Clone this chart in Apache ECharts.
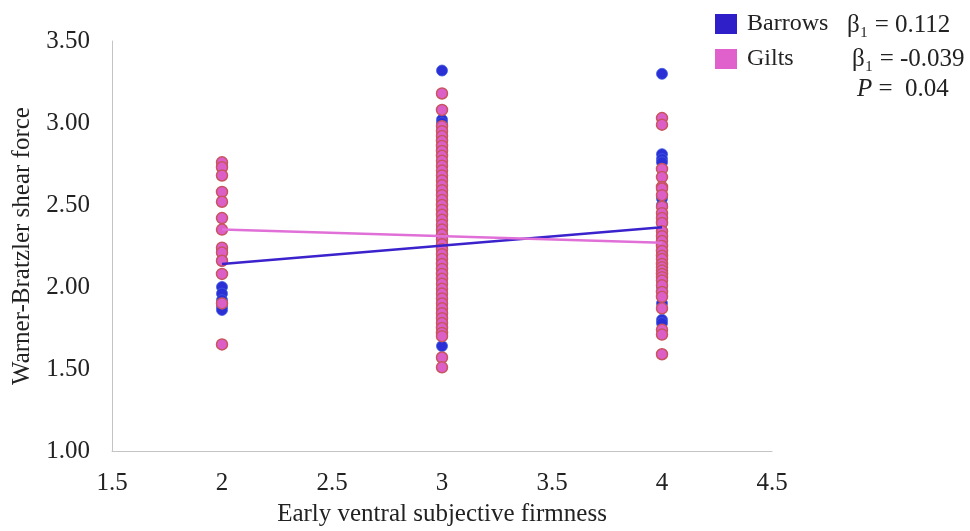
<!DOCTYPE html>
<html>
<head>
<meta charset="utf-8">
<script src="https://cdn.jsdelivr.net/npm/echarts@6/dist/echarts.min.js"></script>
<style>
  html, body { margin: 0; padding: 0; background: #fff; }
  #chart { width: 970px; height: 531px; }
</style>
</head>
<body>
<div id="chart"></div>
<script>
// shear force values, grouped by firmness score
const barrowsFirm2 = [2.00, 1.96, 1.92, 1.88, 1.86, 2.16, 2.22];
const barrowsFirm3 = [3.32, 3.02, 3.00, 2.92, 2.85, 2.74, 2.66, 2.58, 2.50, 2.44, 2.36, 2.30,
  2.26, 2.20, 2.14, 2.08, 2.02, 1.96, 1.90, 1.84, 1.78, 1.72, 1.64];
const barrowsFirm4 = [3.30, 2.81, 2.78, 2.76, 2.54, 2.50, 2.39, 2.30, 2.20, 2.10, 2.00, 1.90,
  1.80, 1.78];

const giltsFirm2 = [2.76, 2.73, 2.68, 2.58, 2.52, 2.42, 2.35, 2.24, 2.21, 2.16, 2.08, 1.90, 1.65];
const giltsFirm3 = [3.18, 3.08, 2.98, 2.95, 2.92, 2.89, 2.86, 2.83, 2.80, 2.77, 2.74, 2.71,
  2.68, 2.65, 2.62, 2.59, 2.56, 2.53, 2.50, 2.47, 2.44, 2.41, 2.38, 2.35, 2.32, 2.29,
  2.26, 2.23, 2.20, 2.17, 2.14, 2.11, 2.08, 2.05, 2.02, 1.99, 1.96, 1.93, 1.90, 1.87,
  1.84, 1.81, 1.78, 1.75, 1.72, 1.70, 1.57, 1.51];
const giltsFirm4 = [3.03, 2.99, 2.72, 2.67, 2.61, 2.60, 2.56, 2.49, 2.45, 2.42, 2.39, 2.34,
  2.31, 2.28, 2.25, 2.22, 2.19, 2.17, 2.14, 2.12, 2.10, 2.08, 2.06, 2.04, 2.01, 1.97,
  1.94, 1.87, 1.74, 1.71, 1.59];

// fitted lines (end points at firmness 2 and 4)
const barrowsFit = [[2, 2.14], [4, 2.364]];
const giltsFit = [[2, 2.35], [4, 2.27]];

const xTicks = { min: 1.5, max: 4.5, interval: 0.5 };
const yTicks = { min: 1.0, max: 3.5, interval: 0.5 };

const serif = "'Liberation Serif', 'Times New Roman', serif";

function toPairs(x, ys) {
  return ys.map(y => [x, y]);
}

const barrowsData = [].concat(toPairs(2, barrowsFirm2), toPairs(3, barrowsFirm3), toPairs(4, barrowsFirm4));
const giltsData = [].concat(toPairs(2, giltsFirm2), toPairs(3, giltsFirm3), toPairs(4, giltsFirm4));

const chart = echarts.init(document.getElementById('chart'));

chart.setOption({
  animation: false,
  grid: { left: 112, top: 41, right: 198, bottom: 80, outerBoundsMode: 'none' },
  legend: {
    data: [
      { name: 'Barrows', itemStyle: { color: '#2e1fc8', borderWidth: 0 } },
      { name: 'Gilts', itemStyle: { color: '#e060cc', borderWidth: 0 } }
    ],
    orient: 'vertical',
    left: 715,
    top: 12,
    padding: 0,
    icon: 'rect',
    itemWidth: 22,
    itemHeight: 20,
    itemGap: 11,
    textStyle: { fontFamily: serif, fontSize: 24, color: '#222', padding: [0, 0, 0, 5] }
  },
  xAxis: {
    type: 'value',
    min: xTicks.min,
    max: xTicks.max,
    interval: xTicks.interval,
    name: 'Early ventral subjective firmness',
    nameLocation: 'middle',
    nameGap: 51,
    nameTextStyle: { fontFamily: serif, fontSize: 25, color: '#222' },
    axisLine: { lineStyle: { color: '#c4c4c4', width: 1 } },
    axisTick: { show: false },
    splitLine: { show: false },
    axisLabel: { fontFamily: serif, fontSize: 25, color: '#222', margin: 20 }
  },
  yAxis: {
    type: 'value',
    min: yTicks.min,
    max: yTicks.max,
    interval: yTicks.interval,
    name: 'Warner-Bratzler shear force',
    nameLocation: 'middle',
    nameGap: 75,
    nameTextStyle: { fontFamily: serif, fontSize: 25, color: '#222' },
    axisLine: { show: true, lineStyle: { color: '#c4c4c4', width: 1 } },
    axisTick: { show: false },
    splitLine: { show: false },
    axisLabel: {
      fontFamily: serif, fontSize: 25, color: '#222', margin: 22,
      formatter: v => v.toFixed(2)
    }
  },
  series: [
    {
      name: 'Barrows',
      type: 'scatter',
      data: barrowsData,
      symbolSize: 11,
      itemStyle: { color: '#2a2fd6', borderColor: '#3d5ade', borderWidth: 0.8, opacity: 1 },
      z: 2
    },
    {
      name: 'Gilts',
      type: 'scatter',
      data: giltsData,
      symbolSize: 11,
      itemStyle: { color: '#dc5fc8', borderColor: '#c8545e', borderWidth: 1.5, opacity: 1 },
      z: 3
    },
    {
      name: 'Barrows fit',
      type: 'line',
      data: barrowsFit,
      symbol: 'none',
      lineStyle: { color: '#3a22cc', width: 2.5 },
      z: 4
    },
    {
      name: 'Gilts fit',
      type: 'line',
      data: giltsFit,
      symbol: 'none',
      lineStyle: { color: '#e070d8', width: 2.5 },
      z: 4
    }
  ],
  graphic: [
    {
      type: 'text', left: 847, top: 13,
      style: { text: 'β₁ = 0.112', font: '25px ' + serif, fill: '#222' }
    },
    {
      type: 'text', left: 852, top: 47,
      style: { text: 'β₁ = -0.039', font: '25px ' + serif, fill: '#222' }
    },
    {
      type: 'text', left: 857, top: 77,
      style: {
        text: '{i|P}{n| =  0.04}',
        rich: {
          i: { fontFamily: serif, fontSize: 25, fontStyle: 'italic', fill: '#222' },
          n: { fontFamily: serif, fontSize: 25, fill: '#222' }
        }
      }
    }
  ]
});
</script>
</body>
</html>
